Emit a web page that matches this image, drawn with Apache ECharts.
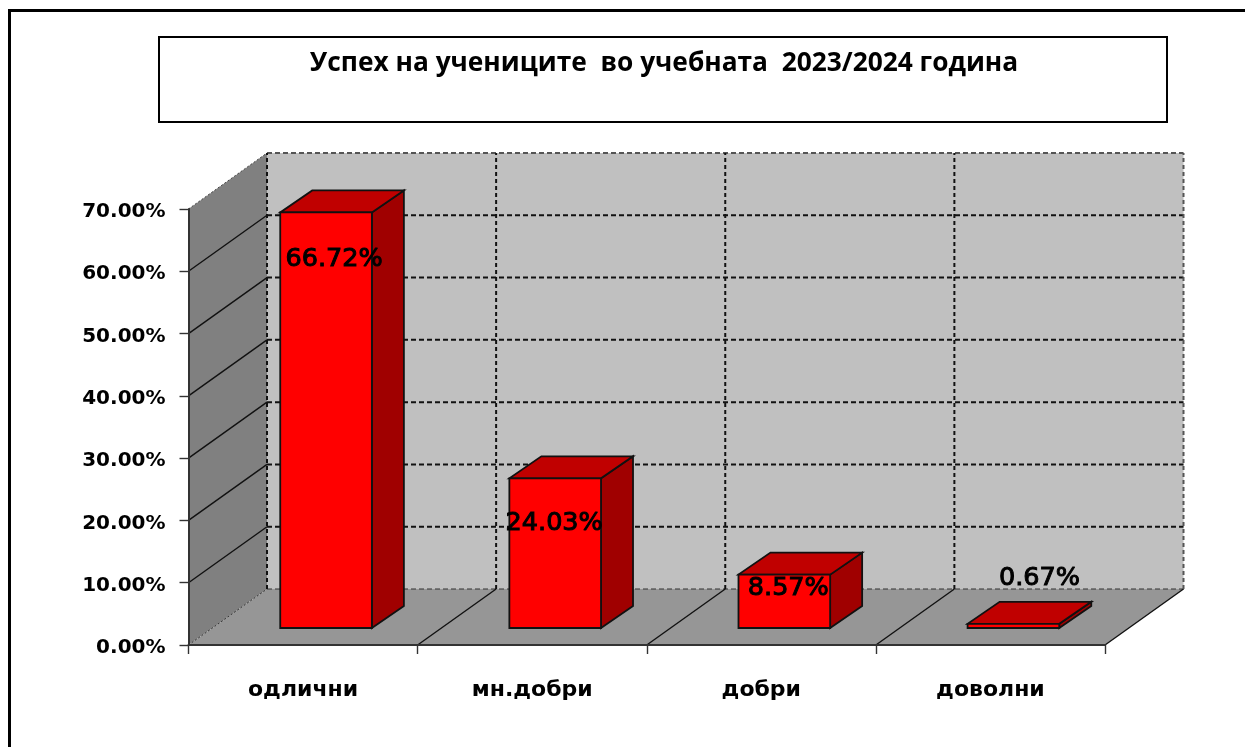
<!DOCTYPE html>
<html><head><meta charset="utf-8">
<style>html,body{margin:0;padding:0;background:#fff}#c{width:1245px;height:747px}</style>
<script src="https://cdn.jsdelivr.net/npm/echarts@6/dist/echarts.min.js"></script>
</head><body><div id="c"></div>
<script>
const titleText = 'Успех на учениците  во учебната  2023/2024 година';
const categories = ['одлични', 'мн.добри', 'добри', 'доволни'];
const values = [66.72, 24.03, 8.57, 0.67];
const labels = ['66.72%', '24.03%', '8.57%', '0.67%'];
const yTicks = [0, 10, 20, 30, 40, 50, 60, 70];

// layout, in pixels
const WALL_DX = 78.5, WALL_DY = -56;
const BAR_SHIFT_X = 23, BAR_SHIFT_Y = -17;
const BAR_DX = 32, BAR_DY = -22;
const BAR_RATIO = 0.4;
const labelNudge = [[8, 47], [-1, 45], [4, 14], [26, -45]];

const chart = echarts.init(document.getElementById('c'), null, {renderer: 'canvas'});

function renderFrame(params, api) {
  const cs = params.coordSys;
  const n = categories.length;
  const x0 = cs.x, x1 = cs.x + cs.width;
  const yAt = v => api.coord([0, v])[1];
  const y0 = yAt(0), yTop = yAt(yTicks[yTicks.length - 1]);
  const kids = [];
  const poly = (pts, fill) => kids.push({type: 'polygon', shape: {points: pts}, style: {fill, stroke: 'none'}});
  const line = (a, b, stroke, lineWidth, dash) => kids.push({
    type: 'line', shape: {x1: a[0], y1: a[1], x2: b[0], y2: b[1]},
    style: {stroke, lineWidth, lineDash: dash || null}
  });
  // back wall, side wall, floor
  poly([[x0 + WALL_DX, yTop + WALL_DY], [x1 + WALL_DX, yTop + WALL_DY], [x1 + WALL_DX, y0 + WALL_DY], [x0 + WALL_DX, y0 + WALL_DY]], '#c0c0c0');
  poly([[x0, y0], [x0 + WALL_DX, y0 + WALL_DY], [x0 + WALL_DX, yTop + WALL_DY], [x0, yTop]], '#808080');
  poly([[x0, y0], [x1, y0], [x1 + WALL_DX, y0 + WALL_DY], [x0 + WALL_DX, y0 + WALL_DY]], '#969696');
  // horizontal grid
  yTicks.forEach(v => {
    const y = yAt(v);
    const isTop = v === yTicks[yTicks.length - 1];
    if (v === 0) {
      line([x0, y], [x0 + WALL_DX, y + WALL_DY], '#333', 1, [2, 2]);
      line([x0 + WALL_DX, y + WALL_DY], [x1 + WALL_DX, y + WALL_DY], '#333', 1, [5, 3]);
    } else if (isTop) {
      line([x0, y], [x0 + WALL_DX, y + WALL_DY], '#444', 1, [2, 2]);
      line([x0 + WALL_DX, y + WALL_DY], [x1 + WALL_DX, y + WALL_DY], '#555', 2, [5, 3]);
    } else {
      line([x0, y], [x0 + WALL_DX, y + WALL_DY], '#111', 1.4);
      line([x0 + WALL_DX, y + WALL_DY], [x1 + WALL_DX, y + WALL_DY], '#111', 2, [5, 3]);
    }
  });
  // vertical grid and floor lines
  for (let i = 0; i <= n; i++) {
    const x = x0 + cs.width * i / n;
    if (i > 0) line([x, y0], [x + WALL_DX, y0 + WALL_DY], '#111', 1.4);
    line([x + WALL_DX, y0 + WALL_DY], [x + WALL_DX, yTop + WALL_DY], i === n ? '#555' : '#111', 2, [4, 3]);
  }
  return {type: 'group', children: kids};
}

function renderBar(params, api) {
  const i = api.value(0), v = api.value(1);
  const base = api.coord([i, 0]);
  const top = api.coord([i, v]);
  const w = api.size([1, 0])[0] * BAR_RATIO;
  const l = base[0] + BAR_SHIFT_X - w / 2, r = l + w;
  const b = base[1] + BAR_SHIFT_Y, t = top[1] + BAR_SHIFT_Y;
  const edge = {stroke: '#111', lineWidth: 1.8, lineJoin: 'miter'};
  const cx = (l + r) / 2;
  const nudge = labelNudge[params.dataIndex];
  return {type: 'group', children: [
    {type: 'polygon', shape: {points: [[r, b], [r + BAR_DX, b + BAR_DY], [r + BAR_DX, t + BAR_DY], [r, t]]}, style: Object.assign({fill: '#a00000'}, edge)},
    {type: 'polygon', shape: {points: [[l, t], [r, t], [r + BAR_DX, t + BAR_DY], [l + BAR_DX, t + BAR_DY]]}, style: Object.assign({fill: '#c00000'}, edge)},
    {type: 'rect', shape: {x: l, y: t, width: w, height: b - t}, style: Object.assign({fill: '#ff0000'}, edge)},
    {type: 'text', z2: 50, style: {
      x: cx + nudge[0], y: t + nudge[1], text: labels[params.dataIndex],
      textAlign: 'center', textVerticalAlign: 'middle',
      font: 'normal 25.5px "DejaVu Sans"', fill: '#000', stroke: '#000', lineWidth: 1
    }}
  ]};
}

chart.setOption({
  animation: false,
  backgroundColor: '#fff',
  title: {
    text: titleText, left: 659, top: 46, textAlign: 'center',
    textStyle: {fontFamily: 'Open Sans', fontWeight: 'bold', fontSize: 26.3, color: '#000'}
  },
  graphic: [
    {type: 'polyline', shape: {points: [[9.5, 747], [9.5, 10.5], [1245, 10.5]]}, style: {stroke: '#000', lineWidth: 3, fill: 'none'}},
    {type: 'rect', shape: {x: 159, y: 37, width: 1008, height: 85}, style: {stroke: '#000', lineWidth: 2, fill: 'none'}}
  ],
  grid: {left: 188.5, right: 140, top: 209, bottom: 102},
  xAxis: {
    type: 'category', data: categories, z: 5,
    axisLine: {lineStyle: {color: '#333', width: 2}},
    axisTick: {show: true, alignWithLabel: false, length: 9, lineStyle: {color: '#333', width: 1.4}},
    axisLabel: {margin: 34, fontFamily: 'DejaVu Sans', fontWeight: 'bold', fontSize: 22, color: '#000'},
    splitLine: {show: false}
  },
  yAxis: {
    type: 'value', min: 0, max: 70, interval: 10, z: 5,
    axisLine: {show: true, lineStyle: {color: '#333', width: 2}},
    axisTick: {show: true, length: 9, lineStyle: {color: '#333', width: 1.4}},
    axisLabel: {margin: 23, verticalAlign: 'top', lineHeight: 6, fontFamily: 'DejaVu Sans', fontWeight: 'bold', fontSize: 20, color: '#000', formatter: v => v.toFixed(2) + '%'},
    splitLine: {show: false}
  },
  series: [
    {type: 'custom', silent: true, z: 1, renderItem: renderFrame, data: [[0, 0]]},
    {type: 'custom', silent: true, z: 3, renderItem: renderBar, data: values.map((v, i) => [i, v])}
  ]
});
</script></body></html>
